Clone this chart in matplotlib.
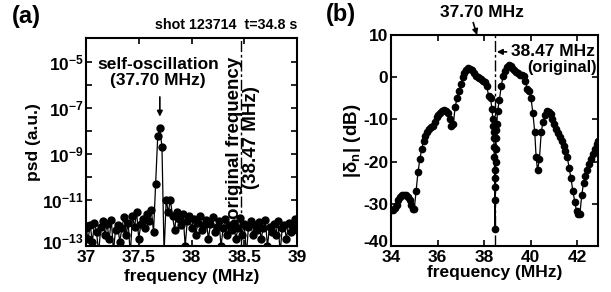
import numpy as np
import matplotlib
matplotlib.use("Agg")
import matplotlib.pyplot as plt
import matplotlib.transforms as mtransforms
from matplotlib.ticker import FixedLocator, FuncFormatter, NullLocator

plt.rcParams['font.family'] = ['Liberation Sans', 'DejaVu Sans']
plt.rcParams['font.weight'] = 'bold'
plt.rcParams['mathtext.default'] = 'regular'
plt.rcParams['axes.labelweight'] = 'bold'

# ---------------- data (a) ----------------
freq_a = np.round(np.arange(37.0, 39.001, 0.02), 2)
psd_a = [
    6e-13, 2e-13, 8e-13, 1.5e-13, 1e-12, 4e-13, 5e-14, 7e-13, 1.2e-12, 3e-13,
    9e-13, 2e-13, 1.4e-12, 6e-14, 5e-13, 8e-13, 1.5e-13, 6e-13, 1.8e-12, 3e-13,
    1e-12, 4e-14, 2e-12, 7e-13, 3e-12, 2e-13, 9e-13, 1.5e-12, 6e-13, 2.5e-12,
    1.2e-12, 3.5e-12, 4e-13, 5e-11, 6e-9, 1.3e-8, 2e-9, 5e-14, 1e-11, 3e-12,
    1e-11, 2e-12, 5e-13, 3e-12, 1.5e-12, 8e-13, 2.5e-12, 1e-13, 1.2e-12, 2e-12,
    6e-13, 1.5e-12, 3e-13, 1e-12, 2e-12, 5e-13, 8e-13, 1.3e-12, 2e-13, 9e-13,
    1.8e-12, 4e-13, 7e-13, 1.2e-12, 1e-13, 6e-13, 1.5e-12, 3e-13, 8e-13, 5e-13,
    1e-12, 2e-13, 6e-13, 1.6e-12, 3e-13, 9e-13, 4e-14, 7e-13, 1.2e-12, 3e-13,
    8e-13, 5e-13, 1.1e-12, 2e-13, 6e-13, 1.3e-12, 1e-13, 7e-13, 4e-13, 9e-13,
    3e-13, 1.2e-12, 5e-14, 6e-13, 8e-13, 2e-13, 1e-12, 4e-13, 7e-13, 1.5e-12,
    5e-13,
]
xticks_a = [37, 37.5, 38, 38.5, 39]
xticklabels_a = ['37', '37.5', '38', '38.5', '39']
yexp_major_a = [-13, -11, -9, -7, -5]

# ---------------- data (b) ----------------
freq_b = [
    34.00, 34.08, 34.16, 34.24, 34.32, 34.40, 34.48, 34.56, 34.64, 34.72,
    34.80, 34.88, 34.96, 35.00, 35.08, 35.16, 35.24, 35.32, 35.40, 35.48,
    35.56, 35.64, 35.72, 35.80, 35.88, 35.96, 36.04, 36.12, 36.20, 36.28,
    36.36, 36.44, 36.52, 36.60, 36.68, 36.76, 36.84, 36.92, 37.00, 37.08,
    37.16, 37.24, 37.32, 37.40, 37.48, 37.56, 37.64, 37.72, 37.80, 37.88,
    37.96, 38.04, 38.12, 38.20, 38.28, 38.34, 38.38, 38.40, 38.41, 38.42,
    38.43, 38.44, 38.45, 38.46, 38.47, 38.48, 38.49, 38.50, 38.51, 38.52,
    38.53, 38.55, 38.58, 38.66, 38.74, 38.82, 38.90, 38.98, 39.06, 39.14,
    39.22, 39.30, 39.38, 39.46, 39.54, 39.62, 39.70, 39.78, 39.86, 39.94,
    40.02, 40.10, 40.18, 40.24, 40.30, 40.38, 40.46, 40.54, 40.62, 40.70,
    40.78, 40.86, 40.94, 41.02, 41.10, 41.18, 41.26, 41.34, 41.42, 41.50,
    41.58, 41.66, 41.74, 41.82, 41.90, 41.98, 42.06, 42.12, 42.20, 42.28,
    42.36, 42.44, 42.52, 42.60, 42.68, 42.76, 42.84, 42.92,
]
db_b = [
    -31.5, -31.5, -31.0, -30.2, -29.2, -28.5, -28.0, -27.8, -27.8, -28.3,
    -29.2, -30.3, -31.2, -31.3, -27.0, -22.5, -19.5, -17.0, -15.2, -14.0,
    -13.0, -12.3, -11.8, -11.5, -10.5, -9.5, -9.0, -8.5, -8.0, -7.8,
    -8.0, -8.6, -9.8, -11.5, -11.0, -7.0, -5.0, -3.2, -1.5, 0.0,
    1.0, 1.7, 2.1, 2.0, 1.6, 0.9, 0.3, 0.0, -0.2, -0.4,
    -0.8, -1.2, -2.2, -4.5, -5.0, -7.5, -10.0, -11.5, -13.0, -14.5,
    -16.5, -19.0, -22.0, -26.0, -36.0, -29.0, -24.0, -20.0, -17.0, -14.5,
    -12.5, -11.0, -8.0, -5.5, -2.0, 0.2, 1.5, 2.5, 2.8, 2.6,
    2.2, 1.7, 1.2, 0.9, 0.6, 0.5, 0.2, -1.0, -2.8, -3.2,
    -5.0, -8.5, -13.0, -19.0, -22.0, -19.5, -13.0, -10.5, -9.0, -8.0,
    -8.2, -8.8, -9.8, -11.0, -12.3, -13.2, -14.2, -15.2, -16.3, -17.5,
    -19.0, -21.5, -24.0, -27.0, -29.5, -31.8, -32.3, -32.5, -28.0, -25.0,
    -23.5, -22.0, -20.5, -19.3, -18.2, -17.0, -15.8, -15.2,
]
xticks_b = [34, 36, 38, 40, 42]
yticks_b = [-40, -30, -20, -10, 0, 10]

f_self = 37.70
f_orig = 38.47

FS = 12.5

# ---------------- figure ----------------
fig = plt.figure(figsize=(6.11, 2.92), dpi=100)
axa = fig.add_axes([86/611, 1-246/292, 211/611, 208/292])
axb = fig.add_axes([391/611, 1-246/292, 207/611, 211/292])

for ax in (axa, axb):
    for s in ax.spines.values():
        s.set_linewidth(1.5)
    ax.tick_params(direction='in', top=True, right=True, length=4, width=1.2,
                   labelsize=FS, pad=2)
    ax.tick_params(axis='x', pad=3)

# panel (a)
axa.plot(freq_a, psd_a, color='black', lw=0.9, marker='o', ms=5, zorder=3)
axa.set_yscale('log')
axa.set_xlim(37, 39)
axa.set_ylim(1e-13, 1.1e-4)
axa.axvline(f_orig, color='black', lw=1, ls=(0, (8, 2, 2, 2)), zorder=2)
axa.set_xticks(xticks_a)
axa.set_xticklabels(xticklabels_a, fontweight='bold')
axa.yaxis.set_major_locator(FixedLocator([10.0**e for e in range(-13, -4)]))
axa.yaxis.set_minor_locator(NullLocator())
shown_exp = [e for e in yexp_major_a if e != -13]
axa.yaxis.set_major_formatter(FuncFormatter(
    lambda v, p: ('10$^{%d}$' % round(np.log10(v))) if round(np.log10(v)) in shown_exp else ''))
for lab in axa.get_xticklabels() + axa.get_yticklabels():
    lab.set_fontweight('bold')
# lowest decade label sits slightly above its tick, as in the reference
blend_a = mtransforms.blended_transform_factory(axa.transAxes, axa.transData)
axa.text(-0.012, 10**-12.83, '10$^{%d}$' % yexp_major_a[0], transform=blend_a,
         ha='right', va='center', fontsize=FS, fontweight='bold')
axa.set_xlabel('frequency (MHz)', fontsize=FS, fontweight='bold', labelpad=3)
axa.set_ylabel('psd (a.u.)', fontsize=FS, fontweight='bold', labelpad=1)
axa.tick_params(axis='y', pad=1.5)

axa.text(37.68, 10**-5.45, 'self-oscillation\n(37.70 MHz)', ha='center', va='center',
         fontsize=FS, fontweight='bold', linespacing=1.05)
axa.annotate('', xy=(f_self, 10**-7.5), xytext=(f_self, 10**-6.4),
             arrowprops=dict(arrowstyle='-|>', color='black', lw=1.2,
                             mutation_scale=8))
axa.text(f_orig + 0.02, 10**-8.3, 'original frequency\n(38.47 MHz)', rotation=90,
         ha='center', va='center', fontsize=13.5, fontweight='bold',
         multialignment='center', linespacing=1.0)
axa.text(1.0, 1.03, 'shot 123714  t=34.8 s', transform=axa.transAxes,
         ha='right', va='bottom', fontsize=10.3, fontweight='bold')

# panel (b)
axb.plot(freq_b, db_b, color='black', lw=0.9, marker='o', ms=4.5, zorder=3)
axb.set_xlim(34, 42.9)
axb.set_ylim(-40, 10)
axb.axvline(f_orig, color='black', lw=1, ls=(0, (8, 2, 2, 2)), zorder=2)
axb.set_xticks(xticks_b)
axb.set_yticks(yticks_b)
axb.set_yticklabels([''] + [str(v) for v in yticks_b[1:]])
for lab in axb.get_xticklabels() + axb.get_yticklabels():
    lab.set_fontweight('bold')
blend_b = mtransforms.blended_transform_factory(axb.transAxes, axb.transData)
axb.text(-0.012, yticks_b[0] + 0.8, str(yticks_b[0]), transform=blend_b,
         ha='right', va='center', fontsize=FS, fontweight='bold')
axb.set_xlabel('frequency (MHz)', fontsize=FS, fontweight='bold', labelpad=0)
axb.set_ylabel('|δ$_n$| (dB)', fontsize=FS + 1, fontweight='bold', labelpad=0)

axb.annotate('37.70 MHz', xy=(f_self, 10), xytext=(37.93, 13.6),
             ha='center', va='bottom', fontsize=FS, fontweight='bold',
             annotation_clip=False,
             arrowprops=dict(arrowstyle='-|>', color='black', lw=1.2,
                             mutation_scale=8, shrinkA=0, shrinkB=0,
                             relpos=(0.38, 0.0)))
axb.annotate('38.47 MHz', xy=(f_orig + 0.08, 6.0), xytext=(39.15, 6.0),
             ha='left', va='center', fontsize=FS, fontweight='bold',
             arrowprops=dict(arrowstyle='-|>', color='black', lw=1.2,
                             mutation_scale=8, shrinkA=1, shrinkB=0))
axb.text(42.85, 2.3, '(original)', ha='right', va='center', fontsize=11.7,
         fontweight='bold')

fig.text(12/611, 1-16/292, '(a)', ha='left', va='center', fontsize=17, fontweight='bold')
fig.text(326/611, 1-15/292, '(b)', ha='left', va='center', fontsize=17, fontweight='bold')

fig.savefig('out.png', dpi=100)
